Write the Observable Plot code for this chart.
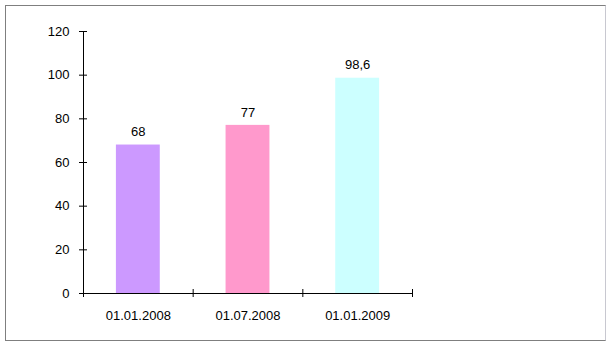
<!DOCTYPE html>
<html>
<head>
<meta charset="utf-8">
<script src="https://cdn.jsdelivr.net/npm/d3@7"></script>
<script src="https://cdn.jsdelivr.net/npm/@observablehq/plot@0.6"></script>
<style>
  html, body { margin: 0; padding: 0; background: #fff; }
  #wrap { position: relative; width: 611px; height: 347px; overflow: hidden; }
  #frame { position: absolute; left: 5px; top: 5px; width: 601px; height: 336px; box-sizing: border-box; border: 1px solid #7f7f7f; border-right-color: #c8c8d0; }
  #chart { position: absolute; left: 0; top: 0; }
</style>
</head>
<body>
<div id="wrap"><div id="frame"></div><div id="chart"></div></div>
<script>
const categories = ["01.01.2008", "01.07.2008", "01.01.2009"];
const values = [68, 77, 98.6];
const valueLabels = ["68", "77", "98,6"];
const colors = ["#CC99FF", "#FF99CC", "#CCFFFF"];
const yTicks = [0, 20, 40, 60, 80, 100, 120];

const data = categories.map((c, i) => ({i, category: c, value: values[i], label: valueLabels[i], color: colors[i]}));

const chart = Plot.plot({
  width: 611,
  height: 347,
  marginLeft: 83,
  marginRight: 199,
  marginTop: 31,
  marginBottom: 54,
  x: {domain: [0, categories.length]},
  y: {domain: [0, 120]},
  style: {fontFamily: "'Liberation Sans', Arial, sans-serif", fontSize: "13px", color: "#000", background: "transparent"},
  marks: [
    Plot.rectY(data, {x1: d => d.i + 0.3, x2: d => d.i + 0.7, y1: 0, y2: "value", fill: "color"}),
    Plot.text(data, {x: d => d.i + 0.5, y: "value", text: "label", dy: -13, lineAnchor: "middle", fontSize: 13}),
    Plot.ruleX([0], {y1: 0, y2: 120, stroke: "#000"}),
    Plot.ruleY([0], {x1: 0, x2: categories.length, stroke: "#000"}),
    Plot.axisY({ticks: yTicks, tickSize: 8, dx: 4, tickPadding: 10, label: null}),
    Plot.axisX({ticks: d3.range(categories.length + 1), tickSize: 8, dy: -4, tickFormat: () => "", label: null}),
    Plot.axisX({ticks: categories.map((c, i) => i + 0.5), tickSize: 0, tickPadding: 17, tickFormat: t => categories[Math.floor(t)], label: null})
  ]
});
document.getElementById("chart").appendChild(chart);
</script>
</body>
</html>
